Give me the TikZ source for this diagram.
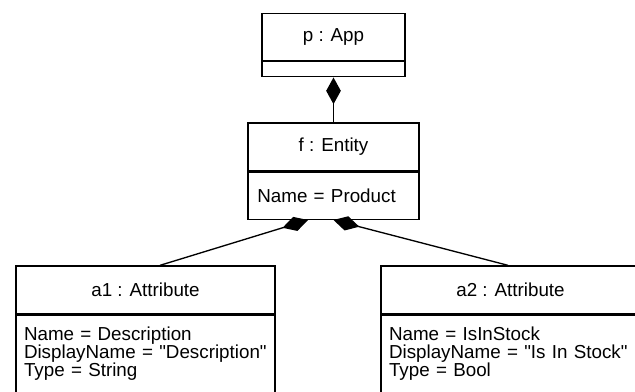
\documentclass[tikz,border=0pt]{standalone}
\usepackage{fontspec}
\setmainfont{Liberation Sans}
\usetikzlibrary{arrows.meta,calc}

\begin{document}
\begin{tikzpicture}[x=0.75pt, y=-0.75pt,
    every node/.style={font=\fontsize{14.1}{13.5}\selectfont},
    head/.style={draw, line width=1pt, inner sep=0pt, align=center},
    slot/.style={draw, line width=1pt, anchor=north, inner xsep=6pt, inner ysep=9pt, align=left},
    part/.style={-{Diamond[length=20pt, width=11pt]}, line width=1pt}]
    \useasboundingbox (0,0) rectangle (635,392);
    \clip (0,0) rectangle (635,392);

    % app object
    \node[head, minimum width=107.25pt, minimum height=35.25pt] (app) at (333.5,37) {p : App};
    \node[slot, minimum width=107.25pt, minimum height=11.25pt, inner sep=0pt] (appb) at (app.south) {};

    % entity object
    \node[head, minimum width=128.25pt, minimum height=36pt] (ent) at (333.5,147) {f : Entity};
    \node[slot, inner xsep=7pt, text width=114.25pt, minimum height=35.25pt] (entb) at (ent.south) {Name = Product};

    % attribute objects
    \node[head, minimum width=194.25pt, minimum height=36pt] (a1) at (145.5,290) {a1 : Attribute};
    \node[slot, text width=182.25pt, text depth=50pt] (a1b) at (a1.south)
    {Name = Description\\DisplayName = \textquotedbl Description\textquotedbl\\Type = String};

    \node[head, minimum width=194.25pt, minimum height=36pt] (a2) at (510.5,290) {a2 : Attribute};
    \node[slot, text width=182.25pt, text depth=50pt] (a2b) at (a2.south)
    {Name = IsInStock\\DisplayName = \textquotedbl Is In Stock\textquotedbl\\Type = Bool};

    % compositions
    \draw[part] (ent.north) -- (appb.south);
    \draw[part] ($(a1.north)+(14.5,0)$) -- ($(entb.south)+(-25.5,0)$);
    \draw[part] ($(a2.north)+(-2.5,0)$) -- (entb.south);
\end{tikzpicture}
\end{document}
